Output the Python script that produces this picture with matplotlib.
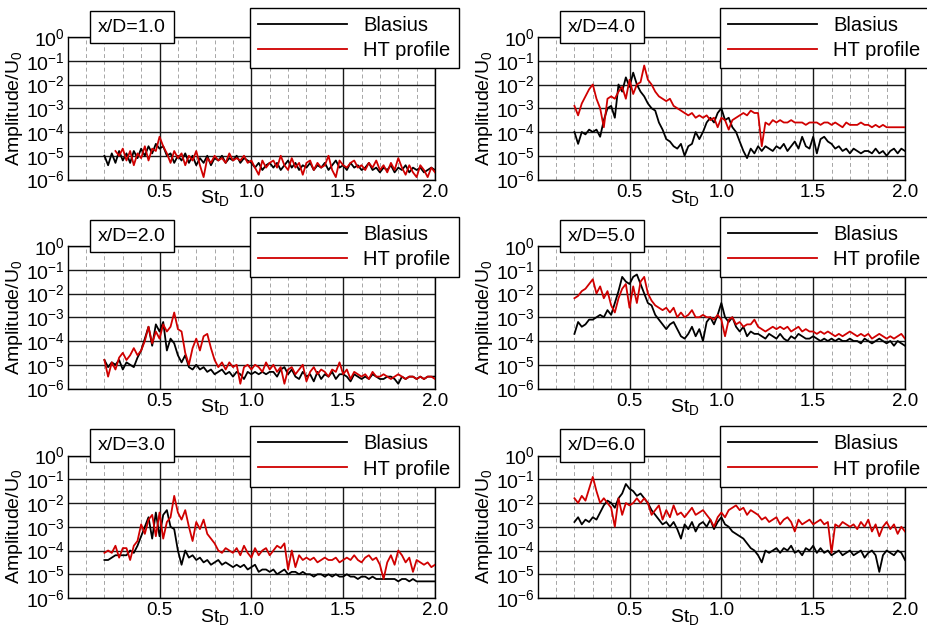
import numpy as np
import matplotlib
matplotlib.use("Agg")
import matplotlib.pyplot as plt
from matplotlib.ticker import LogLocator, FixedLocator, MultipleLocator, NullFormatter

plt.rcParams['font.family'] = ['Liberation Sans', 'DejaVu Sans']
plt.rcParams['mathtext.fontset'] = 'custom'
plt.rcParams['mathtext.rm'] = 'Liberation Sans'
plt.rcParams['mathtext.it'] = 'Liberation Sans:italic'
plt.rcParams['mathtext.bf'] = 'Liberation Sans:bold'

# Strouhal number sampling (St_D), 0.20 ... 2.00 step 0.02
st = np.round(np.arange(0.20, 2.0001, 0.02), 2)

# log10(Amplitude/U0)
blasius_xd1 = [-5.0, -5.4, -4.9, -5.3, -4.8, -5.2,
    -4.9, -5.3, -4.8, -5.1, -4.7, -5.0, -4.6, -4.9, -4.5, -4.7,
    -4.6, -5.0, -4.9, -5.3, -5.0, -5.2, -4.9, -5.3, -5.0, -5.4,
    -5.1, -5.3, -5.0, -5.4, -5.1, -5.2, -5.0, -5.3, -5.1, -5.2,
    -5.0, -5.3, -5.1, -5.2, -5.3, -5.5, -5.3, -5.6, -5.4, -5.3,
    -5.5, -5.3, -5.6, -5.4, -5.2, -5.5, -5.3, -5.6, -5.4, -5.5,
    -5.3, -5.6, -5.4, -5.5, -5.3, -5.6, -5.4, -5.2, -5.5, -5.4,
    -5.6, -5.3, -5.5, -5.4, -5.6, -5.5, -5.3, -5.6, -5.5, -5.7,
    -5.5, -5.6, -5.4, -5.7, -5.5, -5.6, -5.4, -5.7, -5.5, -5.6,
    -5.5, -5.7, -5.6, -5.5, -5.6]
ht_xd1 = [np.nan, np.nan, np.nan, -4.8, -5.0, -4.7,
    -5.2, -4.8, -5.4, -4.9, -5.1, -4.6, -5.2, -4.7, -4.8, -4.2,
    -4.6, -4.9, -5.3, -4.8, -5.1, -4.9, -5.4, -5.0, -5.2, -4.8,
    -5.4, -5.9, -5.1, -5.3, -5.0, -5.2, -5.1, -5.3, -4.9, -5.2,
    -5.1, -5.2, -5.0, -5.3, -5.2, -5.5, -5.8, -5.2, -5.5, -5.3,
    -5.2, -5.5, -5.0, -5.4, -5.6, -5.1, -5.5, -5.3, -5.8, -5.3,
    -5.2, -5.6, -5.3, -5.5, -5.4, -5.0, -5.6, -5.9, -5.2, -5.4,
    -5.5, -5.3, -5.2, -5.5, -5.4, -5.6, -5.3, -5.5, -5.2, -5.6,
    -5.4, -5.7, -5.3, -5.6, -5.1, -5.5, -5.8, -5.4, -5.7, -5.9,
    -5.4, -5.6, -5.9, -5.5, -5.7]

blasius_xd2 = [-4.8, -5.1, -4.9, -5.0, -4.8, -5.2,
    -4.9, -5.0, -5.1, -4.7, -4.4, -3.9, -3.4, -4.2, -3.3, -3.6,
    -3.2, -4.4, -3.9, -4.1, -4.6, -4.9, -4.6, -5.1, -5.2, -5.0,
    -5.2, -5.1, -5.3, -5.2, -5.4, -5.3, -5.2, -5.4, -5.3, -5.5,
    -5.3, -5.4, -5.6, -5.3, -5.4, -5.3, -5.4, -5.3, -5.4, -5.3,
    -5.3, -5.5, -5.2, -5.1, -5.4, -5.2, -5.5, -5.6, -5.3, -5.5,
    -5.4, -5.7, -5.3, -5.6, -5.4, -5.5, -5.3, -5.6, -5.4, -5.4,
    -5.5, -5.7, -5.4, -5.5, -5.6, -5.5, -5.6, -5.4, -5.5, -5.6,
    -5.6, -5.5, -5.5, -5.6, -5.8, -5.5, -5.6, -5.5, -5.5, -5.6,
    -5.5, -5.6, -5.5, -5.5, -5.5]
ht_xd2 = [-4.8, -5.5, -4.9, -5.2, -4.7, -4.5,
    -4.8, -4.6, -4.3, -4.6, -4.4, -4.0, -3.4, -4.1, -3.6, -3.9,
    -3.3, -3.6, -3.4, -2.8, -3.5, -3.6, -4.5, -5.0, -4.3, -3.9,
    -4.4, -3.8, -3.7, -4.3, -4.8, -5.1, -4.9, -5.2, -4.9, -5.1,
    -5.0, -5.8, -5.1, -5.0, -5.2, -5.0, -5.1, -5.3, -4.9, -5.2,
    -5.0, -5.3, -5.1, -5.8, -5.2, -5.1, -5.4, -5.2, -5.0, -5.7,
    -5.3, -5.1, -5.4, -5.2, -5.3, -5.5, -5.2, -5.3, -4.9, -5.4,
    -5.2, -5.6, -5.3, -5.4, -5.5, -5.4, -5.6, -5.3, -5.5, -5.5,
    -5.4, -5.5, -5.6, -5.5, -5.4, -5.5, -5.6, -5.5, -5.5, -5.6,
    -5.5, -5.6, -5.5, -5.5, -5.6]

blasius_xd3 = [-4.4, -4.4, -4.3, -4.2, -4.2, -4.2,
    -4.2, -4.0, -4.1, -3.8, -3.4, -3.0, -2.6, -3.5, -2.4, -3.4,
    -2.5, -2.3, -3.0, -3.1, -4.0, -4.6, -4.0, -4.3, -4.2, -4.4,
    -4.3, -4.5, -4.4, -4.6, -4.5, -4.4, -4.6, -4.5, -4.6, -4.7,
    -4.6, -4.7, -4.6, -4.8, -4.7, -4.6, -4.9, -4.8, -4.8, -4.9,
    -4.8, -5.0, -4.9, -4.8, -5.0, -4.9, -4.9, -5.0, -4.9, -5.0,
    -5.0, -5.1, -5.0, -5.0, -5.1, -5.0, -5.1, -5.0, -5.1, -5.1,
    -5.0, -5.1, -5.1, -5.2, -5.1, -5.1, -5.2, -5.1, -5.2, -5.2,
    -5.2, -5.2, -5.2, -5.2, -5.3, -5.2, -5.2, -5.3, -5.2, -5.3,
    -5.3, -5.3, -5.3, -5.3, -5.3]
ht_xd3 = [-4.1, -4.0, -4.1, -3.8, -4.3, -3.9,
    -3.9, -4.4, -3.8, -3.6, -2.9, -3.3, -2.7, -2.5, -3.4, -2.4,
    -3.5, -2.8, -2.6, -1.7, -2.4, -2.7, -2.3, -3.0, -3.6, -2.8,
    -3.1, -2.7, -3.3, -3.5, -3.7, -4.0, -4.1, -3.9, -4.0, -4.1,
    -3.9, -4.2, -3.8, -4.1, -4.3, -3.9, -4.2, -4.0, -3.9, -4.2,
    -4.0, -3.8, -3.9, -3.7, -4.8, -4.0, -4.7, -4.2, -4.4, -4.3,
    -4.4, -4.3, -4.5, -4.4, -4.3, -4.4, -4.4, -4.3, -4.5, -4.4,
    -4.3, -4.4, -4.2, -4.4, -4.5, -4.3, -4.2, -4.4, -4.3, -4.6,
    -5.2, -4.5, -4.2, -4.6, -4.0, -4.2, -4.5, -4.3, -4.9, -4.4,
    -4.5, -4.6, -4.5, -4.7, -4.6]

blasius_xd4 = [-4.0, -4.5, -4.0, -4.1, -3.9, -4.0,
    -3.9, -4.2, -3.5, -3.0, -2.9, -3.4, -2.0, -2.3, -1.7, -2.1,
    -1.5, -2.0, -2.3, -2.5, -2.8, -3.0, -3.1, -3.6, -3.9, -4.3,
    -4.4, -4.6, -4.7, -4.5, -5.0, -4.6, -4.5, -4.0, -4.3, -4.0,
    -3.6, -3.4, -3.6, -3.2, -3.0, -3.5, -3.4, -3.8, -4.0, -4.4,
    -4.8, -5.1, -4.7, -4.9, -4.6, -4.8, -4.6, -4.7, -4.8, -4.6,
    -4.7, -4.5, -4.8, -4.6, -4.4, -4.7, -4.2, -4.6, -4.7, -4.2,
    -4.9, -4.3, -4.2, -4.4, -4.5, -4.7, -4.6, -4.8, -4.7, -4.9,
    -4.7, -4.8, -4.9, -4.8, -4.8, -4.9, -4.7, -4.9, -4.8, -5.0,
    -4.8, -4.7, -4.9, -4.7, -4.8]
ht_xd4 = [-2.9, -3.3, -2.8, -2.5, -2.2, -2.0,
    -2.6, -3.0, -3.8, -2.6, -2.5, -2.6, -2.3, -2.1, -2.6, -1.8,
    -2.4, -2.0, -1.9, -1.2, -1.8, -2.0, -2.3, -2.5, -2.6, -2.7,
    -2.6, -2.9, -3.0, -3.1, -3.2, -3.3, -3.2, -3.4, -3.3, -3.4,
    -3.3, -3.5, -3.4, -3.8, -3.4, -3.5, -3.9, -3.5, -3.4, -3.3,
    -3.2, -3.3, -3.1, -3.2, -3.2, -4.6, -3.6, -3.7, -3.5, -3.6,
    -3.5, -3.6, -3.6, -3.5, -3.6, -3.6, -3.6, -3.7, -3.6, -3.6,
    -3.6, -3.7, -3.6, -3.6, -3.7, -3.6, -3.7, -3.8, -3.6, -3.7,
    -3.7, -3.7, -3.6, -3.7, -3.7, -3.8, -3.7, -3.8, -3.7, -3.8,
    -3.8, -3.8, -3.8, -3.8, -3.8]

blasius_xd5 = [-3.7, -3.2, -3.4, -3.3, -3.1, -3.1,
    -3.0, -2.9, -3.0, -2.7, -2.9, -2.4, -1.9, -1.3, -1.5, -1.6,
    -1.3, -1.2, -1.6, -2.0, -2.4, -2.5, -2.9, -3.1, -3.3, -3.5,
    -3.3, -3.2, -3.5, -3.8, -3.9, -3.7, -3.4, -3.8, -3.5, -4.0,
    -3.2, -3.0, -3.3, -2.9, -2.4, -3.0, -3.2, -3.0, -3.4, -3.6,
    -3.4, -3.8, -3.6, -3.7, -3.7, -3.8, -3.9, -3.7, -3.8, -3.9,
    -3.7, -3.9, -4.0, -3.8, -3.9, -3.7, -3.8, -3.9, -3.9, -3.8,
    -3.9, -4.0, -3.9, -4.0, -3.9, -4.0, -3.9, -4.0, -4.0, -3.9,
    -4.0, -4.0, -4.1, -3.9, -4.0, -4.1, -4.0, -3.9, -4.0, -4.1,
    -4.0, -4.2, -4.0, -4.1, -4.2]
ht_xd5 = [-2.2, -2.1, -1.9, -1.8, -1.6, -1.4,
    -2.0, -1.7, -2.2, -1.9, -2.5, -2.8, -2.2, -1.8, -1.6, -2.6,
    -1.7, -2.4, -1.5, -1.3, -2.0, -2.3, -2.5, -2.6, -2.7, -2.6,
    -2.8, -2.6, -3.0, -2.8, -3.0, -2.9, -2.7, -3.0, -3.0, -2.9,
    -3.0, -3.0, -3.1, -2.9, -3.1, -3.8, -3.1, -3.0, -3.3, -3.2,
    -3.4, -3.3, -3.3, -3.1, -3.4, -3.5, -3.6, -3.5, -3.4, -3.5,
    -3.4, -3.5, -3.4, -3.6, -3.5, -3.4, -3.6, -3.5, -3.6, -3.6,
    -3.7, -3.6, -3.7, -3.6, -3.7, -3.8, -3.7, -3.8, -3.7, -3.6,
    -3.7, -3.8, -3.7, -3.8, -3.7, -3.9, -3.8, -3.7, -3.8, -3.9,
    -3.8, -3.9, -3.8, -3.7, -3.9]

blasius_xd6 = [-2.8, -2.6, -2.9, -2.7, -2.8, -2.6,
    -2.7, -2.4, -2.1, -1.9, -2.0, -2.2, -1.8, -1.6, -1.2, -1.4,
    -1.5, -1.7, -1.6, -1.8, -2.0, -2.3, -2.5, -2.7, -2.9, -2.8,
    -3.0, -2.8, -3.1, -3.5, -2.9, -3.1, -2.8, -3.2, -2.9, -2.8,
    -3.0, -2.7, -3.1, -2.8, -2.6, -2.9, -3.0, -3.2, -3.3, -3.4,
    -3.5, -3.7, -3.9, -4.0, -4.2, -4.5, -4.0, -4.1, -4.0, -3.9,
    -4.1, -3.9, -4.0, -3.8, -4.1, -4.0, -4.2, -3.9, -4.0, -3.8,
    -4.1, -3.9, -4.1, -4.0, -4.2, -4.1, -4.0, -4.2, -4.1, -4.0,
    -4.2, -4.1, -4.0, -4.3, -4.1, -4.0, -4.2, -4.9, -4.2, -4.0,
    -4.1, -4.2, -4.0, -4.1, -4.4]
ht_xd6 = [-1.8, -2.0, -1.7, -1.9, -1.4, -0.9,
    -1.5, -2.0, -1.8, -2.0, -2.2, -3.0, -1.8, -2.5, -2.0, -2.1,
    -2.0, -1.8, -2.0, -1.8, -2.0, -2.5, -2.3, -2.1, -2.7, -2.3,
    -2.6, -2.1, -2.5, -2.4, -2.6, -2.4, -2.2, -2.5, -2.4, -2.3,
    -2.5, -2.7, -3.0, -2.6, -2.4, -2.6, -2.3, -2.2, -2.1, -2.3,
    -2.2, -2.5, -2.3, -2.4, -2.5, -2.7, -2.6, -2.8, -2.7, -2.6,
    -2.9, -2.7, -2.6, -2.8, -3.2, -2.7, -2.9, -2.8, -2.7, -2.9,
    -2.8, -2.7, -2.9, -2.8, -4.1, -2.9, -3.0, -2.8, -2.9, -3.0,
    -2.9, -3.1, -2.8, -3.0, -2.7, -3.2, -2.9, -3.4, -3.0, -2.8,
    -3.1, -2.9, -3.3, -3.0, -3.2]

panel_titles = ['x/D=1.0', 'x/D=2.0', 'x/D=3.0', 'x/D=4.0', 'x/D=5.0', 'x/D=6.0']
blasius_all = [blasius_xd1, blasius_xd2, blasius_xd3, blasius_xd4, blasius_xd5, blasius_xd6]
ht_all = [ht_xd1, ht_xd2, ht_xd3, ht_xd4, ht_xd5, ht_xd6]
series_labels = ['Blasius', 'HT profile']

x_ticks = [0.5, 1.0, 1.5, 2.0]
x_tick_labels = ['0.5', '1.0', '1.5', '2.0']
y_ticks = [1e-6, 1e-5, 1e-4, 1e-3, 1e-2, 1e-1, 1e0]
y_tick_labels = [r'$10^{-6}$', r'$10^{-5}$', r'$10^{-4}$', r'$10^{-3}$',
                 r'$10^{-2}$', r'$10^{-1}$', r'$10^{0}$']

fig = plt.figure(figsize=(9.28, 6.28), dpi=100)
W, H = 928.0, 628.0
col_left = [67.7, 537.7]
row_top = [37.0, 246.0, 455.5]
ax_w, ax_h = 367.3, 142.5

red = '#d00000'
for k in range(6):
    col = k // 3
    row = k % 3
    left = col_left[col] / W
    bottom = 1 - (row_top[row] + ax_h) / H
    ax = fig.add_axes([left, bottom, ax_w / W, ax_h / H])
    b = 10.0 ** np.asarray(blasius_all[k], dtype=float)
    r = 10.0 ** np.asarray(ht_all[k], dtype=float)
    ax.plot(st, b, color='black', lw=1.3, label=series_labels[0], zorder=3)
    ax.plot(st, r, color=red, lw=1.3, label=series_labels[1], zorder=4)
    ax.set_yscale('log')
    ax.set_xlim(0, 2.0)
    ax.set_ylim(1e-6, 1e0)

    ax.xaxis.set_major_locator(FixedLocator(x_ticks))
    ax.set_xticklabels(x_tick_labels)
    ax.xaxis.set_minor_locator(MultipleLocator(0.1))
    ax.yaxis.set_major_locator(FixedLocator(y_ticks))
    ax.set_yticklabels(y_tick_labels)
    ax.yaxis.set_minor_locator(LogLocator(base=10, subs=np.arange(2, 10)))
    ax.yaxis.set_minor_formatter(NullFormatter())

    ax.tick_params(axis='x', which='both', length=0, labelsize=13.5, pad=3)
    ax.tick_params(axis='y', which='major', length=0, labelsize=14, pad=2)
    ax.tick_params(axis='y', which='minor', direction='in', length=3, width=0.7,
                   left=True, right=False)

    ax.grid(which='major', axis='both', color='0.1', lw=1.0, zorder=1)
    ax.grid(which='minor', axis='x', color='0.65', lw=0.7, ls=(0, (4, 3)), zorder=1)
    ax.set_axisbelow(True)
    for s in ax.spines.values():
        s.set_linewidth(1.0)
        s.set_color('black')

    ax.set_ylabel(r'Amplitude/U$_\mathrm{0}$', fontsize=14, labelpad=1)
    ax.set_xlabel(r'St$_\mathrm{D}$', fontsize=14)
    ax.xaxis.set_label_coords(0.40, -0.06)

    ax.text(0.175, 1.07, panel_titles[k], transform=ax.transAxes,
            ha='center', va='center', fontsize=14, zorder=10,
            bbox=dict(boxstyle='square,pad=0.4', fc='white', ec='black', lw=1.0))

    leg = ax.legend(loc='upper left', bbox_to_anchor=(0.496, 1.207), borderaxespad=0,
                    fontsize=14.5, handlelength=4.4, handletextpad=0.8,
                    labelspacing=0.3, borderpad=0.42, fancybox=False,
                    framealpha=1, edgecolor='black')
    leg.get_frame().set_linewidth(1.0)
    leg.set_zorder(10)

fig.savefig('out.png', dpi=100)
